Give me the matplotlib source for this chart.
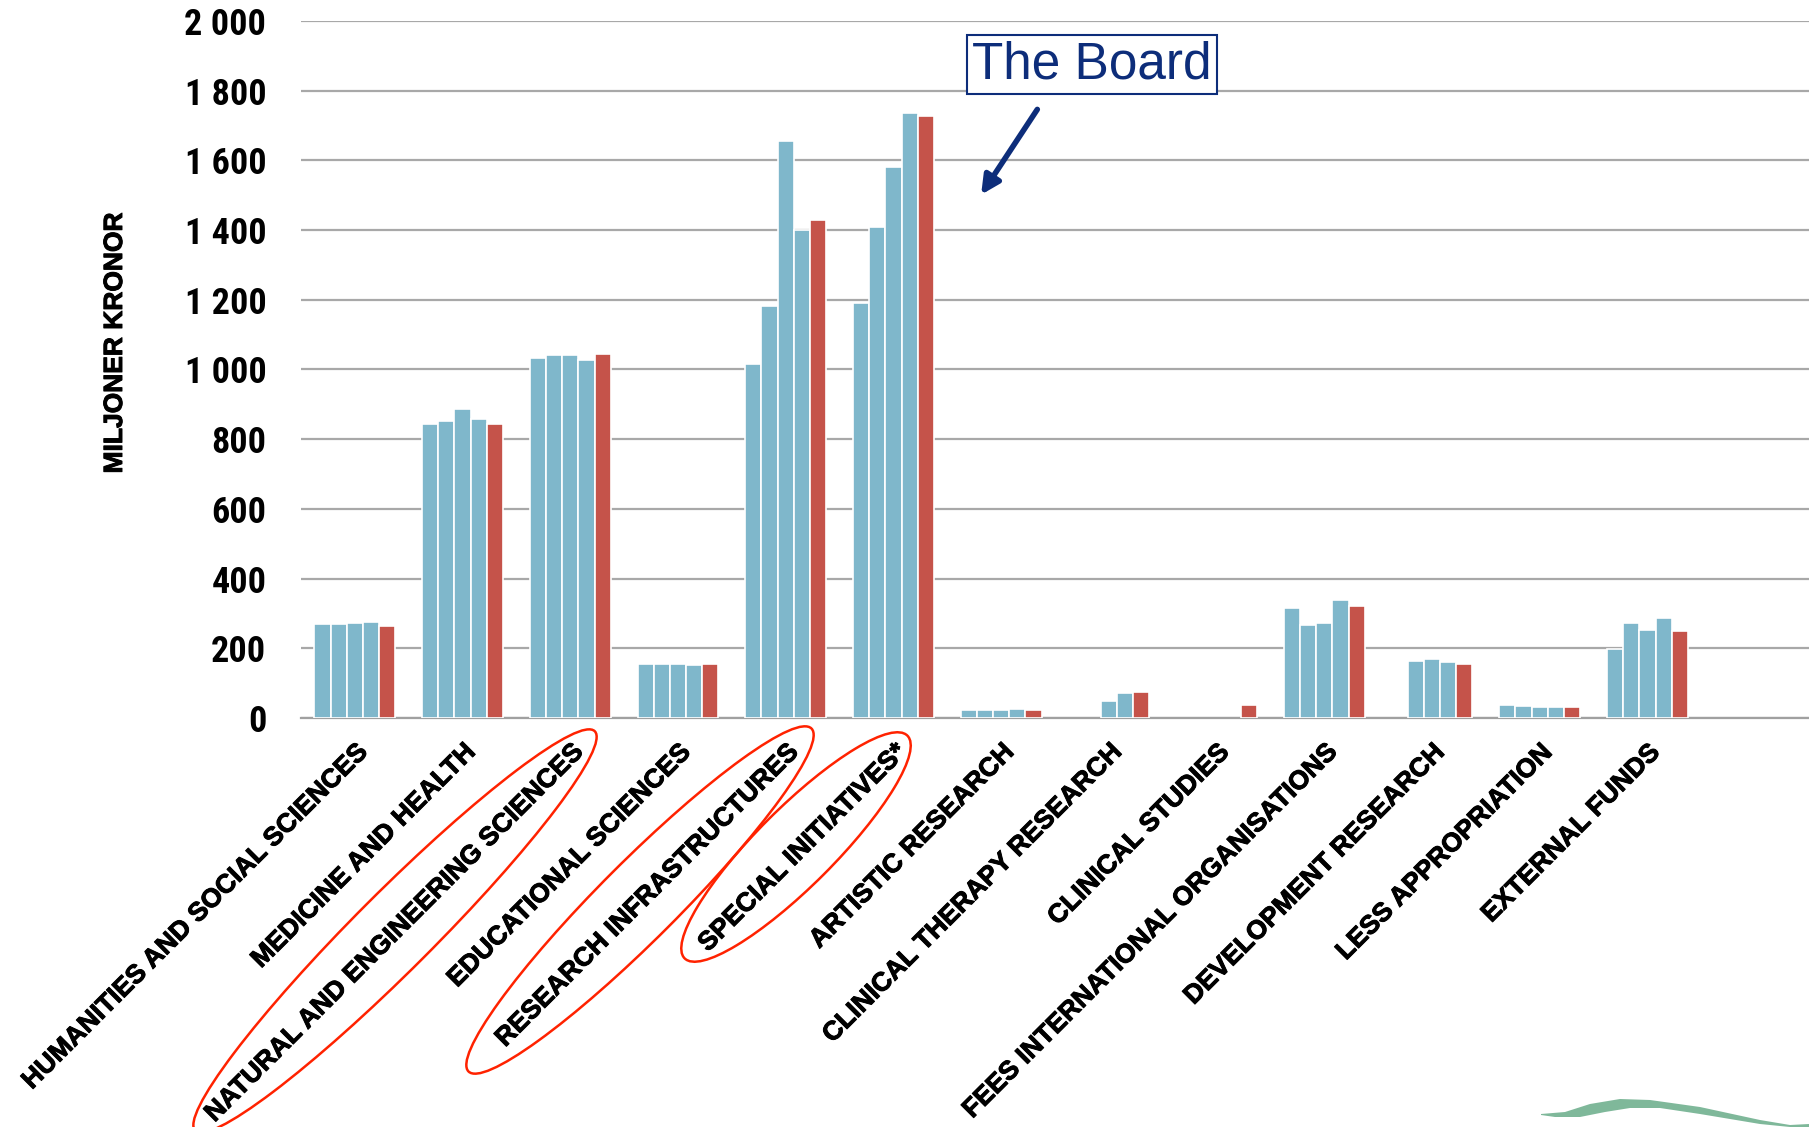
import numpy as np
import matplotlib
matplotlib.use("Agg")
import matplotlib.pyplot as plt
import matplotlib.patheffects as pe
from matplotlib.patches import Ellipse, Polygon
from matplotlib.transforms import IdentityTransform
from matplotlib.ticker import FuncFormatter

nan = np.nan
categories = [
    "HUMANITIES AND SOCIAL SCIENCES",
    "MEDICINE AND HEALTH",
    "NATURAL AND ENGINEERING SCIENCES",
    "EDUCATIONAL SCIENCES",
    "RESEARCH INFRASTRUCTURES",
    "SPECIAL INITIATIVES*",
    "ARTISTIC RESEARCH",
    "CLINICAL THERAPY RESEARCH",
    "CLINICAL STUDIES",
    "FEES INTERNATIONAL ORGANISATIONS",
    "DEVELOPMENT RESEARCH",
    "LESS APPROPRIATION",
    "EXTERNAL FUNDS",
]
year1 = [270, 845, 1032, 154, 1017, 1192, 23, nan, nan, 317, nan, 37, 198]
year2 = [270, 853, 1041, 154, 1182, 1409, 23, nan, nan, 267, 164, 34, 273]
year3 = [272, 888, 1041, 154, 1655, 1580, 23, 49, nan, 272, 169, 31, 252]
year4 = [275, 857, 1027, 152, 1400, 1735, 26, 71, nan, 340, 162, 31, 287]
year5 = [265, 843, 1044, 154, 1429, 1727, 23, 74, 36, 320, 156, 31, 250]
series = [year1, year2, year3, year4, year5]
colors = ["#7fb7cb", "#7fb7cb", "#7fb7cb", "#7fb7cb", "#c5534a"]
yticks = [0, 200, 400, 600, 800, 1000, 1200, 1400, 1600, 1800, 2000]

narrow = ["Liberation Sans Narrow", "Arial Narrow", "Roboto Condensed",
          "Archivo Narrow", "PT Sans Narrow", "DejaVu Sans"]
arial = ["Liberation Sans", "Arimo", "DejaVu Sans"]
thick = [pe.withStroke(linewidth=0.7, foreground="black")]

W, H = 1809, 1127
fig = plt.figure(figsize=(W / 100, H / 100), dpi=100)
ax = fig.add_axes([301 / W, 1 - 718 / H, 1 - 301 / W, (718 - 21) / H])

x = np.arange(len(categories))
bw = 0.15
for i, (vals, c) in enumerate(zip(series, colors)):
    ax.bar(x + (i - 2) * bw, vals, width=bw, color=c, edgecolor="white",
           linewidth=1.2, zorder=3)

ax.set_xlim(-0.5, 13.5)
ax.set_ylim(0, 2000)
ax.set_yticks(yticks)
ax.yaxis.set_major_formatter(FuncFormatter(lambda v, p: f"{int(v):,}".replace(",", " ")))
ax.grid(axis="y", color="#a8a8a8", linewidth=1.6, zorder=0)
for s in ["top", "right", "left"]:
    ax.spines[s].set_visible(False)
ax.spines["bottom"].set_color("#a0a0a0")
ax.spines["bottom"].set_linewidth(1.6)
ax.tick_params(axis="y", length=0, pad=25)
ax.tick_params(axis="x", length=0, pad=16)
for lab in ax.get_yticklabels():
    lab.set_fontfamily(narrow)
    lab.set_fontweight("bold")
    lab.set_fontsize(26)

ax.set_xticks(x)
ax.set_xticklabels(categories, rotation=45, ha="right", va="top",
                   rotation_mode="anchor", fontsize=19, fontweight="bold",
                   family=arial)
for lab in ax.get_xticklabels():
    lab.set_path_effects(thick)

fig.text(115 / W, 1 - 343 / H, "MILJONER KRONOR", rotation=90, ha="center",
         va="center", fontsize=19, fontweight="bold", family=arial,
         path_effects=thick)

navy = "#0d2d7a"
ax.annotate("", xy=(5.80, 1495), xytext=(6.35, 1753),
            arrowprops=dict(arrowstyle="-|>,head_length=1.1,head_width=0.55",
                            color=navy, lw=4), zorder=5)
ax.text(6.84, 1875, "The Board", ha="center", va="center", fontsize=37,
        color=navy, family=arial, zorder=6,
        bbox=dict(boxstyle="square,pad=0.1", fc="white", ec=navy, lw=1.5))

# red hand-drawn ellipses around three labels (pixel coords)
for cx, cy, L, w in [(395, 931, 565, 78), (640, 900, 485, 78), (796, 847, 315, 78)]:
    e = Ellipse((cx, H - cy), L, w, angle=45, fill=False, edgecolor="#ff2200",
                linewidth=1.8, transform=IdentityTransform(), zorder=10)
    fig.add_artist(e)

# green swoosh decoration bottom right
upper = [(1541, 1114), (1565, 1112), (1590, 1104), (1620, 1099), (1650, 1100),
         (1700, 1107), (1760, 1120), (1790, 1125), (1809, 1124)]
lower = [(1809, 1127), (1790, 1127), (1760, 1124), (1700, 1114), (1660, 1108),
         (1630, 1108), (1605, 1112), (1580, 1117), (1555, 1117), (1541, 1115)]
pts = [(px, H - py) for px, py in upper + lower]
fig.add_artist(Polygon(pts, closed=True, fc="#7fb89a", ec="none",
                       transform=IdentityTransform()))

fig.savefig("out.png", dpi=100)
